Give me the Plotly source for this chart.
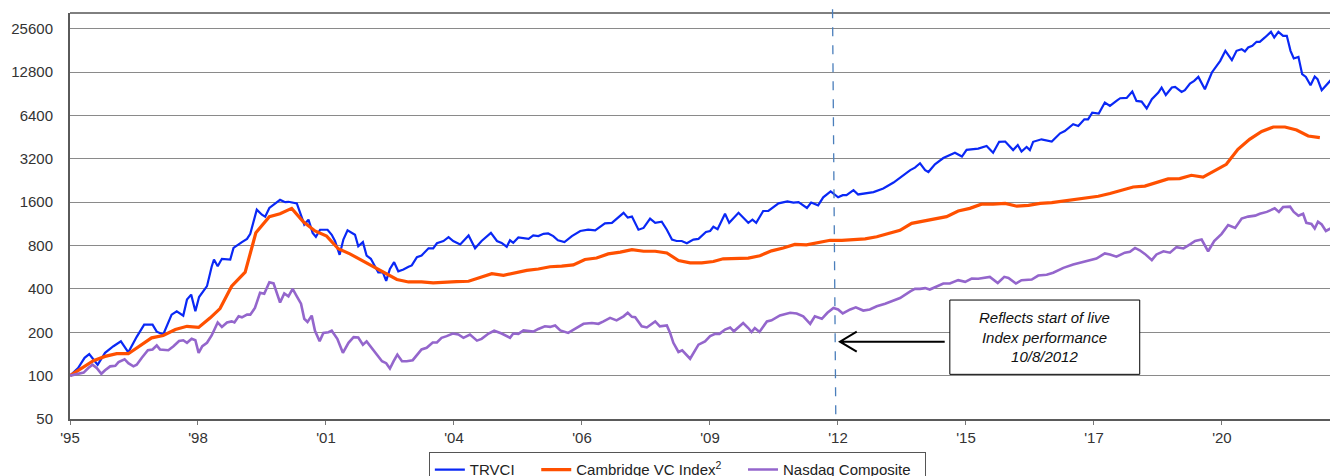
import plotly.graph_objects as go
import math

# ---------------- data (time in decimal years, values indexed to 100) ----------------
trvci_t = [1995.92, 1996.09, 1996.23, 1996.33, 1996.51, 1996.67, 1996.85, 1997.01, 1997.17, 1997.35,
           1997.51, 1997.69, 1997.78, 1997.92, 1998.10, 1998.21, 1998.35, 1998.43, 1998.52, 1998.61,
           1998.69, 1998.86, 1998.96, 1999.01, 1999.09, 1999.18, 1999.36, 1999.43, 1999.61, 1999.72,
           1999.79, 1999.86, 1999.93, 2000.04, 2000.11, 2000.20, 2000.29, 2000.40, 2000.43, 2000.54,
           2000.61, 2000.79, 2000.86, 2000.95, 2001.04, 2001.13, 2001.20, 2001.29, 2001.45, 2001.54,
           2001.61, 2001.71, 2001.79, 2001.88, 2002.04, 2002.11, 2002.21, 2002.29, 2002.38, 2002.47,
           2002.54, 2002.64, 2002.71, 2002.79, 2002.88, 2002.97, 2003.08, 2003.19, 2003.26, 2003.37,
           2003.47, 2003.62, 2003.72, 2003.80, 2003.94, 2004.05, 2004.15, 2004.30, 2004.48, 2004.62,
           2004.76, 2004.96, 2005.09, 2005.19, 2005.30, 2005.37, 2005.44, 2005.55, 2005.77, 2005.87,
           2005.98, 2006.09, 2006.19, 2006.30, 2006.40, 2006.54, 2006.70, 2006.88, 2007.05, 2007.20,
           2007.41, 2007.56, 2007.70, 2007.81, 2007.90, 2007.99, 2008.13, 2008.24, 2008.38, 2008.49,
           2008.63, 2008.74, 2008.85, 2008.95, 2009.06, 2009.17, 2009.31, 2009.42, 2009.58, 2009.67,
           2009.74, 2009.83, 2009.99, 2010.08, 2010.28, 2010.49, 2010.58, 2010.66, 2010.81, 2010.92,
           2011.14, 2011.33, 2011.46, 2011.57, 2011.75, 2011.84, 2011.99, 2012.10, 2012.26, 2012.42,
           2012.52, 2012.60, 2012.75, 2012.85, 2013.18, 2013.39, 2013.61, 2013.79, 2013.97, 2014.07,
           2014.18, 2014.29, 2014.36, 2014.50, 2014.68, 2014.93, 2015.08, 2015.18, 2015.43, 2015.61,
           2015.75, 2015.88, 2016.01, 2016.18, 2016.28, 2016.36, 2016.47, 2016.54, 2016.61, 2016.79,
           2017.01, 2017.19, 2017.29, 2017.47, 2017.58, 2017.71, 2017.79, 2017.88, 2018.02, 2018.15,
           2018.26, 2018.40, 2018.48, 2018.62, 2018.74, 2018.83, 2018.94, 2019.05, 2019.16, 2019.30,
           2019.37, 2019.46, 2019.59, 2019.66, 2019.80, 2019.87, 2019.98, 2020.07, 2020.16, 2020.30,
           2020.45, 2020.63, 2020.74, 2020.88, 2020.98, 2021.09, 2021.16, 2021.23, 2021.32, 2021.41,
           2021.48, 2021.59, 2021.72, 2021.79, 2021.88, 2021.98, 2022.06, 2022.14, 2022.21, 2022.31,
           2022.39, 2022.47, 2022.57, 2022.66, 2022.72, 2022.81, 2022.92, 2022.99, 2023.06, 2023.16]
trvci_v = [100, 113, 133, 141, 119, 144, 160, 173, 145, 186,
           226, 226, 202, 193, 265, 280, 261, 337, 365, 280,
           351, 418, 570, 640, 575, 647, 640, 770, 845, 890,
           964, 1180, 1420, 1310, 1270, 1460, 1530, 1640, 1660, 1600,
           1610, 1570, 1350, 1120, 1210, 980, 920, 1030, 1030, 950,
           860, 690, 880, 1020, 950, 790, 845, 680, 647, 575,
           520, 520, 455, 550, 613, 530, 546, 570, 582, 664,
           683, 765, 765, 830, 860, 915, 860, 815, 940, 765,
           860, 980, 860, 835, 785, 870, 835, 910, 890, 940,
           930, 965, 970, 930, 870, 845, 930, 1010, 1030, 1020,
           1140, 1150, 1250, 1350, 1250, 1270, 1030, 1060, 1230, 1150,
           1170, 1030, 880, 860, 860, 830, 880, 890, 995, 1010,
           1080, 1040, 1330, 1150, 1350, 1150, 1210, 1150, 1390, 1390,
           1570, 1620, 1590, 1600, 1460, 1590, 1520, 1730, 1900, 1730,
           1790, 1790, 1940, 1810, 1880, 1990, 2190, 2430, 2670, 2780,
           2980, 2670, 2590, 2930, 3240, 3530, 3320, 3690, 3770, 3930,
           3530, 4200, 4220, 3680, 3990, 3590, 3870, 3680, 4200, 4370,
           4220, 4810, 4990, 5560, 5410, 6020, 6020, 6700, 6600, 7870,
           7450, 8080, 8430, 8470, 9380, 8080, 7990, 7150, 8290, 9230,
           10000, 8880, 10000, 10100, 9320, 9580, 10670, 11120, 11850, 9730,
           12720, 15320, 17980, 15490, 17980, 18470, 17800, 18980, 19470, 20760,
           20760, 22270, 24360, 22270, 24360, 22850, 22850, 17980, 15910, 16330,
           12380, 11850, 10380, 11930, 11430, 9580, 10430, 11120, 10260, 11300]

cambridge_t = [1995.92, 1996.06, 1996.21, 1996.42, 1996.67, 1996.92, 1997.17, 1997.42, 1997.67, 1997.92,
               1998.18, 1998.43, 1998.68, 1998.93, 1999.14, 1999.39, 1999.68, 1999.91, 2000.20, 2000.43,
               2000.68, 2000.93, 2001.18, 2001.43, 2001.68, 2001.93, 2002.15, 2002.43, 2002.94, 2003.19,
               2003.47, 2003.72, 2003.97, 2004.22, 2004.48, 2004.73, 2004.98, 2005.23, 2005.48, 2005.73,
               2005.98, 2006.23, 2006.48, 2006.73, 2006.98, 2007.23, 2007.48, 2007.74, 2007.99, 2008.24,
               2008.49, 2008.74, 2008.99, 2009.24, 2009.49, 2009.74, 2009.95, 2010.22, 2010.49, 2010.74,
               2010.99, 2011.24, 2011.49, 2011.74, 2011.99, 2012.25, 2012.50, 2012.75, 2013.00, 2013.25,
               2013.50, 2013.75, 2014.00, 2014.25, 2014.50, 2014.75, 2015.00, 2015.25, 2015.50, 2015.75,
               2016.01, 2016.26, 2016.51, 2016.76, 2017.01, 2017.26, 2017.51, 2017.76, 2018.01, 2018.26,
               2018.51, 2018.76, 2019.01, 2019.26, 2019.51, 2019.76, 2020.01, 2020.26, 2020.51, 2020.76,
               2021.01, 2021.26, 2021.52, 2021.77, 2022.02, 2022.27, 2022.52, 2022.77]
cambridge_v = [100, 107, 116, 127, 136, 142, 142, 162, 183, 190,
               209, 220, 216, 252, 292, 418, 523, 980, 1270, 1330,
               1450, 1170, 1010, 930, 760, 700, 640, 570, 465, 447,
               447, 440, 447, 450, 452, 482, 510, 497, 518, 538,
               550, 570, 575, 587, 640, 655, 700, 720, 750, 730,
               730, 710, 630, 606, 606, 620, 647, 650, 655, 680,
               735, 770, 815, 810, 835, 870, 870, 880, 890, 920,
               965, 1020, 1140, 1180, 1230, 1270, 1390, 1450, 1550, 1550,
               1570, 1500, 1520, 1570, 1590, 1630, 1670, 1710, 1760, 1840,
               1930, 2040, 2070, 2180, 2320, 2330, 2460, 2390, 2630, 2930,
               3720, 4370, 4950, 5320, 5320, 5070, 4610, 4490]

nasdaq_t = [1995.92, 1996.21, 1996.31, 1996.40, 1996.49, 1996.59, 1996.67, 1996.78, 1996.89, 1996.96,
            1997.09, 1997.17, 1997.28, 1997.35, 1997.46, 1997.59, 1997.69, 1997.78, 1997.85, 1998.03,
            1998.14, 1998.26, 1998.35, 1998.43, 1998.53, 1998.61, 1998.68, 1998.76, 1998.86, 1998.96,
            1999.09, 1999.18, 1999.29, 1999.39, 1999.45, 1999.54, 1999.61, 1999.72, 1999.79, 1999.89,
            2000.00, 2000.09, 2000.20, 2000.29, 2000.43, 2000.52, 2000.61, 2000.70, 2000.79, 2000.88,
            2000.95, 2001.02, 2001.11, 2001.18, 2001.28, 2001.36, 2001.47, 2001.54, 2001.66, 2001.78,
            2001.90, 2002.01, 2002.11, 2002.21, 2002.29, 2002.40, 2002.51, 2002.62, 2002.71, 2002.79,
            2002.87, 2002.95, 2003.05, 2003.15, 2003.28, 2003.37, 2003.47, 2003.58, 2003.71, 2003.80,
            2003.90, 2004.01, 2004.14, 2004.26, 2004.37, 2004.51, 2004.66, 2004.76, 2004.91, 2005.03,
            2005.19, 2005.37, 2005.44, 2005.55, 2005.66, 2005.87, 2005.98, 2006.12, 2006.23, 2006.34,
            2006.45, 2006.62, 2006.77, 2006.95, 2007.13, 2007.27, 2007.38, 2007.52, 2007.66, 2007.81,
            2007.90, 2007.99, 2008.06, 2008.20, 2008.31, 2008.41, 2008.49, 2008.59, 2008.74, 2008.81,
            2008.88, 2008.99, 2009.07, 2009.24, 2009.33, 2009.42, 2009.56, 2009.67, 2009.78, 2009.87,
            2009.99, 2010.10, 2010.18, 2010.38, 2010.49, 2010.56, 2010.63, 2010.73, 2010.89, 2010.99,
            2011.17, 2011.39, 2011.53, 2011.67, 2011.82, 2011.92, 2012.07, 2012.19, 2012.32, 2012.42,
            2012.52, 2012.68, 2012.80, 2012.96, 2013.10, 2013.25, 2013.43, 2013.57, 2013.75, 2013.97,
            2014.07, 2014.18, 2014.29, 2014.39, 2014.57, 2014.68, 2014.82, 2015.00, 2015.15, 2015.29,
            2015.43, 2015.54, 2015.68, 2015.85, 2015.99, 2016.08, 2016.24, 2016.36, 2016.47, 2016.58,
            2016.72, 2016.90, 2017.04, 2017.26, 2017.47, 2017.65, 2017.83, 2017.97, 2018.15, 2018.26,
            2018.40, 2018.58, 2018.69, 2018.80, 2018.90, 2019.01, 2019.16, 2019.26, 2019.41, 2019.55,
            2019.69, 2019.84, 2019.98, 2020.09, 2020.23, 2020.37, 2020.50, 2020.66, 2020.80, 2020.95,
            2021.09, 2021.23, 2021.38, 2021.48, 2021.63, 2021.73, 2021.80, 2021.89, 2021.98, 2022.13,
            2022.21, 2022.31, 2022.41, 2022.48, 2022.59, 2022.66, 2022.73, 2022.81, 2022.90, 2023.06,
            2023.16]
nasdaq_v = [100, 105, 113, 119, 113, 103, 109, 116, 117, 124,
            130, 122, 116, 119, 133, 150, 152, 162, 152, 150,
            160, 174, 176, 169, 180, 176, 144, 160, 169, 190,
            234, 218, 234, 238, 234, 258, 254, 265, 265, 295,
            376, 370, 445, 437, 322, 372, 355, 400, 355, 316,
            248, 236, 261, 205, 173, 198, 200, 205, 180, 144,
            169, 185, 184, 164, 173, 156, 140, 126, 122, 112,
            126, 140, 126, 126, 128, 138, 152, 156, 170, 170,
            183, 188, 196, 193, 183, 193, 175, 180, 196, 205,
            196, 183, 196, 195, 206, 202, 211, 220, 218, 223,
            206, 198, 211, 229, 232, 229, 238, 252, 242, 258,
            273, 256, 254, 220, 216, 229, 238, 220, 223, 198,
            169, 146, 150, 131, 148, 164, 173, 188, 195, 195,
            209, 216, 203, 232, 214, 201, 214, 201, 238, 242,
            262, 273, 270, 258, 229, 258, 248, 273, 295, 288,
            270, 288, 298, 283, 288, 303, 316, 328, 346, 385,
            400, 400, 405, 396, 422, 436, 436, 460, 448, 472,
            470, 477, 485, 440, 485, 477, 436, 460, 465, 465,
            495, 502, 518, 560, 590, 613, 633, 650, 705, 694,
            670, 714, 724, 770, 742, 700, 633, 694, 730, 714,
            780, 764, 815, 860, 880, 730, 860, 964, 1110, 1060,
            1230, 1270, 1290, 1330, 1370, 1410, 1450, 1370, 1480, 1490,
            1370, 1290, 1330, 1150, 1130, 1050, 1170, 1120, 1010, 1080,
            1000]

series_names = ["TRVCI", "Cambridge VC Index<sup>2</sup>", "Nasdaq Composite"]
series_colors = ["#0a28f5", "#ff5000", "#9466cc"]
series_widths = [2.2, 3.2, 2.6]
legend_pad = ["\u00a0\u00a0\u00a0\u00a0", "\u00a0\u00a0\u00a0\u00a0", "\u00a0\u00a0"]

x_tick_years = [1995 + 11/12 + 2.75 * k for k in range(10)]
x_tick_labels = ["'95", "'98", "'01", "'04", "'06", "'09", "'12", "'15", "'17", "'20"]
y_tick_vals = [50, 100, 200, 400, 800, 1600, 3200, 6400, 12800, 25600]
y_tick_labels = [str(v) for v in y_tick_vals]

live_start_year = 2012.33  # 10/8/2012 marker as drawn
note_text = "<i>Reflects start of live<br>Index performance<br>10/8/2012</i>"

FONT = "Liberation Sans, Arial, sans-serif"

fig = go.Figure()
for t, v, name, col, w, pad in zip([trvci_t, cambridge_t, nasdaq_t], [trvci_v, cambridge_v, nasdaq_v],
                                    series_names, series_colors, series_widths, legend_pad):
    fig.add_trace(go.Scatter(x=t, y=v, mode="lines", name=name + pad,
                             line=dict(color=col, width=w)))

# The page body adds an 8px margin, so the figure is sized 8px smaller to land in the window.
x_min, x_max = 1995 + 11/12, 2023.16
fig.update_layout(
    width=1330, height=468,
    margin=dict(l=62, r=0, t=5, b=57, autoexpand=False),
    paper_bgcolor="white", plot_bgcolor="white",
    font=dict(family=FONT, size=15, color="#333333"),
    showlegend=True,
    legend=dict(orientation="h", x=0.283, y=-0.082, xanchor="left", yanchor="top",
                bordercolor="#555555", borderwidth=1, font=dict(size=15, color="#222222"),
                itemwidth=30, tracegroupgap=0),
    xaxis=dict(range=[x_min, x_max], tickmode="array", tickvals=x_tick_years, ticktext=x_tick_labels,
               showgrid=False, zeroline=False, showline=True, linecolor="#5a5a5a", linewidth=2,
               ticks="outside", ticklen=4, tickcolor="#777777", automargin=False,
               tickfont=dict(size=15, color="#333333")),
    yaxis=dict(type="log", range=[math.log10(50), math.log10(32914)], tickmode="array",
               tickvals=y_tick_vals, ticktext=y_tick_labels, showgrid=True, gridcolor="#8a8a8a",
               gridwidth=1, zeroline=False, showline=True, linecolor="#5a5a5a", linewidth=2,
               ticks="", ticklabelstandoff=12, automargin=False,
               tickfont=dict(size=15, color="#333333")),
)

# top border
fig.add_shape(type="line", xref="paper", yref="paper", x0=0, x1=1, y0=1, y1=1,
              line=dict(color="black", width=1))
# dashed live-start line
fig.add_shape(type="line", xref="x", yref="paper", x0=live_start_year - 0.03, x1=live_start_year + 0.04,
              y0=1.009, y1=0, line=dict(color="#4a7ebb", width=1.3, dash="dash"))
# note box
fig.add_shape(type="rect", xref="x", yref="paper", x0=2014.82, x1=2018.90, y0=0.110, y1=0.293,
              line=dict(color="black", width=1), fillcolor="white", layer="above")
fig.add_annotation(xref="x", yref="paper", x=(2014.82 + 2018.90) / 2, y=0.2015, text=note_text,
                   xanchor="center", yanchor="middle",
                   showarrow=False, font=dict(size=15, color="#111111", family=FONT), align="center")
# arrow pointing to live-start line
fig.add_shape(type="path", xref="x", yref="paper",
              path="M 2014.71,0.1904 L 2012.46,0.1904 M 2012.82,0.2150 L 2012.46,0.1904 L 2012.82,0.1658",
              line=dict(color="black", width=2), layer="above")

fig.write_html("out.html")
